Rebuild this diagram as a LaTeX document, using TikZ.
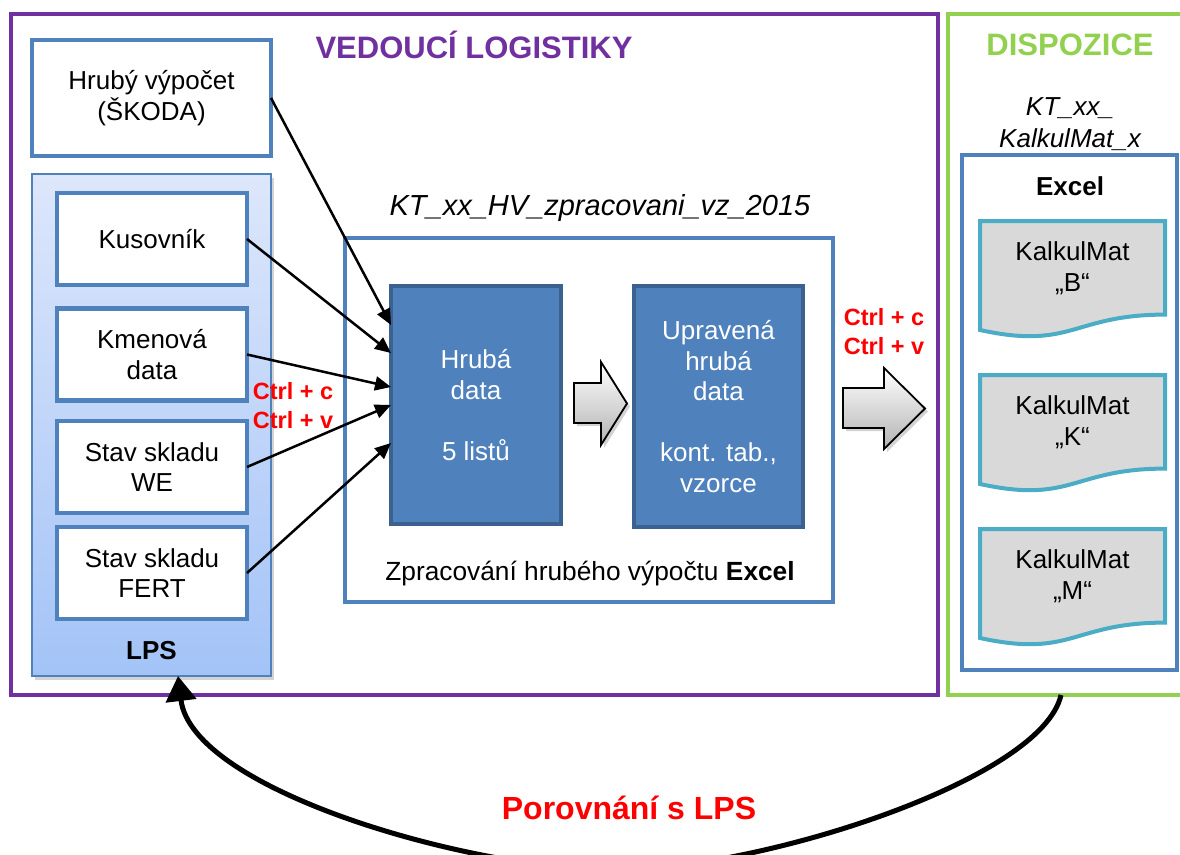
\documentclass[tikz,border=0pt]{standalone}
\usepackage{fontspec}
\setmainfont{Liberation Sans}
\usetikzlibrary{shadows,arrows.meta,calc}
\definecolor{purp}{HTML}{7030A0}
\definecolor{grn}{HTML}{92D050}
\definecolor{blu}{HTML}{4F81BD}
\definecolor{dblu}{HTML}{3A6190}
\definecolor{tealc}{HTML}{4BACC6}
\definecolor{docgray}{HTML}{D9D9D9}
\definecolor{lpstop}{HTML}{DDE7FB}
\definecolor{lpsbot}{HTML}{A3C3F7}
\newcommand\fsz[2]{\fontsize{#1}{#2}\selectfont}
\begin{document}
\begin{tikzpicture}[x=1pt,y=-1pt,
  every node/.style={inner sep=0pt, outer sep=0pt},
  txt/.style={font=\fsz{26}{30.5}, align=center},
  wbox/.style={draw=blu, line width=4.5pt, fill=white, txt},
  dbox/.style={draw=dblu, line width=4pt, fill=blu, text=white, txt},
  cont/.style={draw=blu, line width=4pt, fill=white},
  conn/.style={line width=2.5pt, -{Triangle[length=16pt,width=14pt]}},
  ctrl/.style={text=red, font=\bfseries\fsz{23.5}{29}, align=center},
  doc/.style={draw=tealc, line width=4pt, fill=docgray},
  blk/.style={draw=black, line width=1.8pt, top color=white, bottom color=black!30,
    drop shadow={shadow xshift=3pt, shadow yshift=-3pt, opacity=0.35}},
  ttl/.style={font=\bfseries\fsz{31}{36}},
]
\useasboundingbox (0,0) rectangle (1180,854);
% outer frames
\node[draw=purp, line width=4.5pt, minimum width=927pt, minimum height=681pt] (vl) at (474.5,354.5) {};
\node[draw=grn, line width=4.5pt, minimum width=242pt, minimum height=681pt] (dp) at (1069,354.5) {};
\node[ttl, text=purp] (vlt) at (474,45) {VEDOUCÍ LOGISTIKY};
\node[ttl, text=grn] (dpt) at (1070,45) {DISPOZICE};
% left column
\node[wbox, minimum width=239pt, minimum height=116pt] (hv) at (151.5,98) {Hrubý výpočet\\(ŠKODA)};
\node[draw=blu, line width=1.5pt, top color=lpstop, bottom color=lpsbot,
  minimum width=239pt, minimum height=502pt,
  drop shadow={shadow xshift=3pt, shadow yshift=-4pt, opacity=0.35}] (lps) at (151.5,425) {};
\node[font=\bfseries\fsz{26}{30}] (lpst) at (151.5,651) {LPS};
\node[wbox, minimum width=190pt, minimum height=92pt] (kus) at (152,239) {Kusovník};
\node[wbox, minimum width=190pt, minimum height=92pt] (kmen) at (152,354.5) {Kmenová\\data};
\node[wbox, minimum width=190pt, minimum height=92pt] (we) at (152,467) {Stav skladu\\WE};
\node[wbox, minimum width=190pt, minimum height=92pt] (fert) at (152,573) {Stav skladu\\FERT};
\node[ctrl] (ctl1) at (293,406) {Ctrl + c\\Ctrl + v};
% middle
\node[font=\itshape\fsz{29}{33}] (midt) at (600,208) {KT\_xx\_HV\_zpracovani\_vz\_2015};
\node[cont, minimum width=488pt, minimum height=364pt] (mid) at (589,420) {};
\node[font=\fsz{26.3}{30}] (midb) at (590,574) {Zpracování hrubého výpočtu \textbf{Excel}};
\node[dbox, minimum width=170pt, minimum height=238pt] (hd) at (476,405) {Hrubá\\data\\~\\5 listů};
\node[dbox, minimum width=169pt, minimum height=241pt] (up) at (718.5,406.5) {Upravená\\hrubá\\data\\~\\kont. tab.,\\vzorce};
\draw[blk] (574,383) -- (601,383) -- (601,362) -- (627,403.5) -- (601,445) -- (601,423) -- (574,423) -- cycle;
\node[ctrl] (ctl2) at (884,332) {Ctrl + c\\Ctrl + v};
\draw[blk] (843,388) -- (884,388) -- (884,368) -- (925,408.5) -- (884,449) -- (884,428) -- (843,428) -- cycle;
% connectors
\coordinate (i1) at ($(hd.north west)+(0,39)$);
\coordinate (i2) at ($(hd.north west)+(0,67)$);
\coordinate (i3) at ($(hd.north west)+(0,101)$);
\coordinate (i4) at ($(hd.north west)+(0,119)$);
\coordinate (i5) at ($(hd.north west)+(0,157)$);
\draw[conn] (hv.east) -- (i1);
\draw[conn] (kus.east) -- (i2);
\draw[conn] (kmen.east) -- (i3);
\draw[conn] (we.east) -- (i4);
\draw[conn] (fert.east) -- (i5);
% right
\node[font=\itshape\fsz{26}{32}, align=center] (kt) at (1070,124) {KT\_xx\_\\KalkulMat\_x};
\node[cont, minimum width=215pt, minimum height=515pt] (xl) at (1069.5,412.5) {};
\node[font=\bfseries\fsz{26}{30}] (xlt) at (1070,186) {Excel};
\foreach \t/\l in {221/B,375/K,529/M}{
  \draw[doc] (980,\t) -- (1165,\t) -- (1165,\t+93.6)
    .. controls (1072.5,\t+93.6) and (1072.5,\t+129.2) .. (980,\t+109) -- cycle;
  \node[txt] (doc\l) at (1072.5,\t+47) {KalkulMat\\„\l“};
}
% feedback
\coordinate (cs) at ($(dp.south west)+(113,0)$);
\coordinate (ce) at ($(lps.south)+(26.5,0)$);
\coordinate (cb) at (615,870);
\draw[line width=5pt, -{Triangle[length=25pt,width=30pt]}] (cs)
  .. controls (1042,780) and (760,870) .. (cb)
  .. controls (470,870) and (192,790) .. (ce);
\node[text=red, font=\bfseries\fsz{32}{36}] (por) at (629,808) {Porovnání s LPS};
\end{tikzpicture}
\end{document}
